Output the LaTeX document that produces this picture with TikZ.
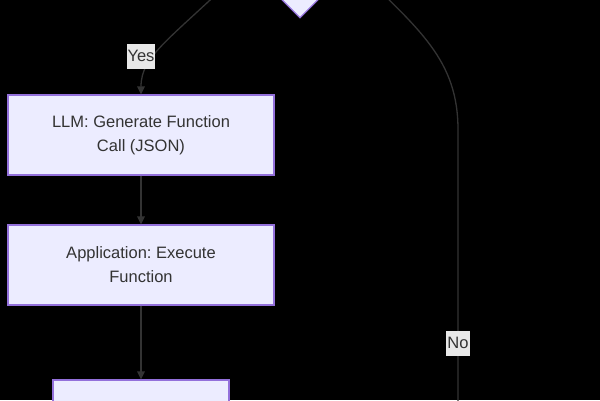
\documentclass[tikz,border=0pt]{standalone}
\usepackage{fontspec}
\setmainfont{Liberation Sans}
\usetikzlibrary{arrows.meta, shapes.geometric}
\definecolor{boxfill}{HTML}{ECECFF}
\definecolor{boxline}{HTML}{9370DB}
\definecolor{edgegray}{HTML}{333333}
\definecolor{lblfill}{HTML}{E8E8E8}
\frenchspacing

\begin{document}
\begin{tikzpicture}[
  x=1bp, y=-1bp,
  >={Triangle[length=8bp, width=7.5bp]},
  flow/.style={->, edgegray, line width=1.3bp},
  stepbox/.style={rectangle, draw=boxline, fill=boxfill, line width=1.2bp,
    minimum width=266bp, minimum height=80bp, inner sep=0pt,
    text=edgegray, align=center, font=\fontsize{16.5bp}{24bp}\selectfont},
  choice/.style={diamond, draw=boxline, fill=boxfill, line width=1.2bp,
    minimum width=212bp, minimum height=212bp, inner sep=0pt},
  edgelabel/.style={fill=lblfill, text=edgegray, inner xsep=1bp, inner ysep=0pt,
    minimum height=25bp, font=\fontsize{16.5bp}{19bp}\selectfont}
]

% Background
\fill[black] (0,0) rectangle (600,400);
\useasboundingbox (0,0) rectangle (600,400);
\clip (0,0) rectangle (600,400);

% ── Nodes ──
% Decision diamond, mostly above the frame
\node[choice] (check) at (300,-88) {};
\node[stepbox] (llm) at (141,135) {LLM: Generate Function\\Call (JSON)};
\node[stepbox] (exec) at (141,265) {Application: Execute\\Function};
% Next step, cut off at the bottom
\node[stepbox, minimum width=176bp, minimum height=60bp] (result) at (141,410) {};
\coordinate (noend) at (458,420);

% ── Connectors ──
\draw[flow] (check.south west) .. controls (170,40) and (141,55) .. (llm.north);
\draw[flow] (llm) -- (exec);
\draw[flow] (exec) -- (result);
\draw[edgegray, line width=1.3bp]
  (check.south east) .. controls (420,30) and (458,60) .. (458,130) -- (noend);

% ── Edge labels ──
\node[edgelabel] (yes) at (141,56) {Yes};
\node[edgelabel] (no) at (458,343) {No};

\end{tikzpicture}
\end{document}
